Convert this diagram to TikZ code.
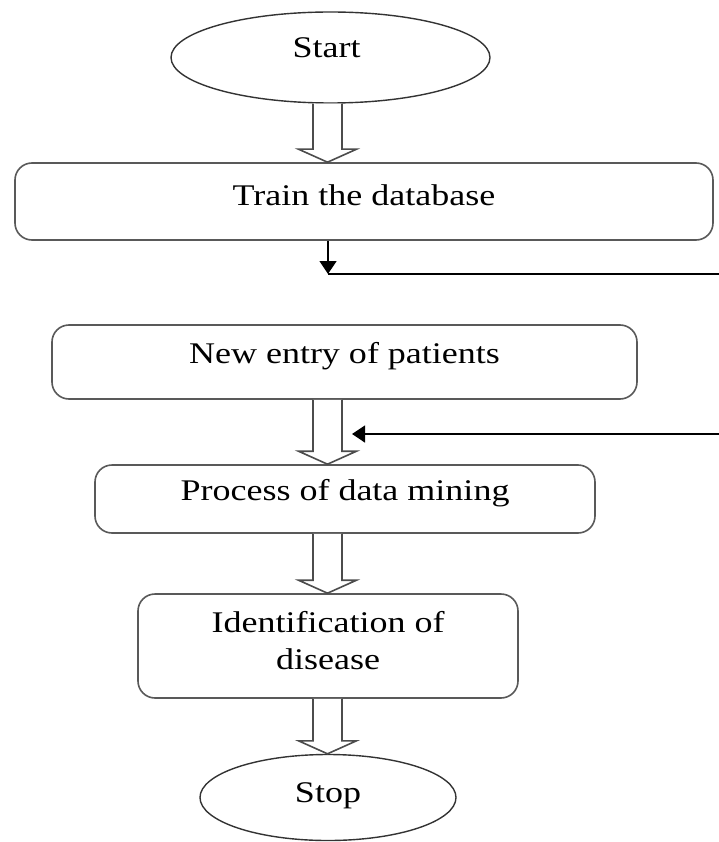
\documentclass[tikz,border=0pt]{standalone}
\usepackage{fontspec}
\setmainfont[FakeStretch=1.2]{Liberation Serif}
\usetikzlibrary{shapes.geometric,arrows.meta,calc}
\tikzset{
  box/.style={draw=black!65, line width=1.6pt, rounded corners=17pt, inner sep=0pt},
  oval/.style={draw=black!80, line width=1.4pt, ellipse, inner sep=0pt},
  txt/.style={inner sep=0pt, align=center},
  hollowline/.style={draw=black!70, line width=1.6pt, fill=white, line join=miter},
  conn/.style={draw=black, line width=1.4pt},
  connarrow/.style={conn, -{Triangle[width=17pt,length=13pt]}},
}
\def\ax{327.5pt}
\newcommand\hollowarr[2]{%
  \path[hollowline] let \p1=(#1.south), \p2=(#2.north) in
    (\ax-14.5pt,\y1) -- (\ax-14.5pt,\y2+13pt) -- (\ax-29pt,\y2+13pt) -- (\ax,\y2)
    -- (\ax+29pt,\y2+13pt) -- (\ax+14.5pt,\y2+13pt) -- (\ax+14.5pt,\y1);}
\begin{document}
\begin{tikzpicture}[x=1pt,y=-1pt,font=\fontsize{30}{37}\selectfont]
\useasboundingbox (0,0) rectangle (719,842);
% shapes
\node[oval, minimum width=319pt, minimum height=91pt] (start) at (330.5,57.5) {};
\node[box, minimum width=698pt, minimum height=77pt] (train) at (364,201.5) {};
\node[box, minimum width=585pt, minimum height=74pt] (new) at (344.5,362) {};
\node[box, minimum width=500pt, minimum height=68pt] (proc) at (345,499) {};
\node[box, minimum width=380pt, minimum height=104pt] (ident) at (328,646) {};
\node[oval, minimum width=256pt, minimum height=86pt] (stop) at (328,797.5) {};
% texts
\node[txt, anchor=base] (tstart) at ([xshift=-4pt]start.center) {Start};
\node[txt, anchor=base] (ttrain) at ([yshift=-4pt]train.center) {Train the database};
\node[txt, anchor=base] (tnew) at ([yshift=-1pt]new.center) {New entry of patients};
\node[txt, anchor=base] (tproc) at ([yshift=-1pt]proc.center) {Process of data mining};
\node[txt] (tident) at ([yshift=5pt]ident.center) {Identification of\\disease};
\node[txt, anchor=base] (tstop) at ([yshift=-4.5pt]stop.center) {Stop};
% hollow arrows
\hollowarr{start}{train}
\hollowarr{new}{proc}
\hollowarr{proc}{ident}
\hollowarr{ident}{stop}
% connectors
\coordinate (c1) at (328,274);
\coordinate (r1) at (719,274);
\coordinate (c2) at (352,434);
\coordinate (r2) at (719,434);
\draw[connarrow] (train.south -| c1) -- (c1);
\draw[conn] (c1) -- (r1);
\draw[connarrow] (r2) -- (c2);
\end{tikzpicture}
\end{document}
